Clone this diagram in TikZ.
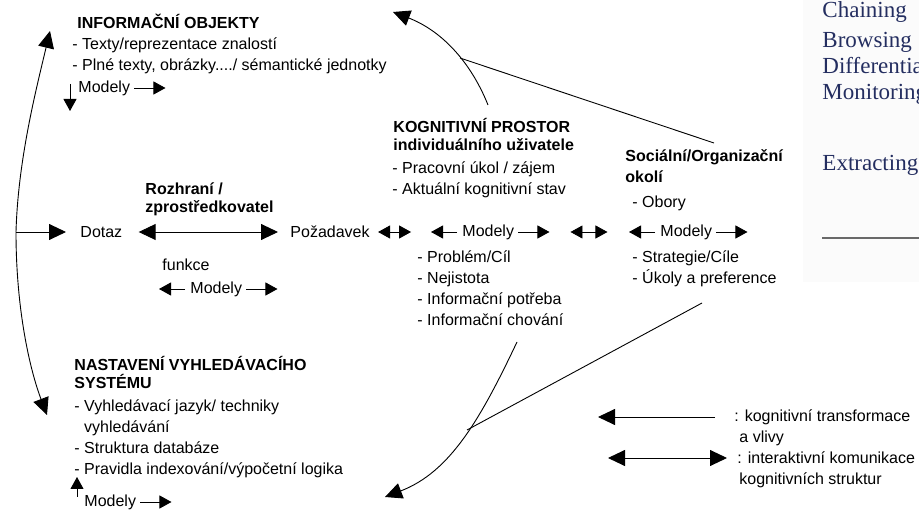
\documentclass[tikz,border=0pt]{standalone}
\usepackage{fontspec}
\setmainfont{Liberation Sans}
\newfontfamily\panelfont{Liberation Serif}
\usetikzlibrary{arrows.meta}
\definecolor{panelink}{RGB}{36,46,96}
\definecolor{panelbg}{RGB}{251,251,251}
\definecolor{rulegray}{RGB}{105,105,105}

\begin{document}
\begin{tikzpicture}[x=1pt,y=1pt,line width=0.9pt,
  >={Triangle[length=12pt,width=13pt]},
  big/.style={>={Triangle[length=17pt,width=16pt]}},
  txt/.style={anchor=west,align=left,font=\fontsize{16}{21}\selectfont},
  bold/.style={anchor=west,align=left,font=\fontsize{16}{18}\selectfont\bfseries},
  paneltxt/.style={anchor=west,text=panelink,text height=16pt,text depth=5pt,font=\panelfont\fontsize{23}{27}\selectfont}]
\tikzstyle{every node}+=[inner sep=0pt]
\useasboundingbox (0,0) rectangle (919,-510);
\fill [panelbg] (803,0) rectangle (919,-282);
\begin{scope}
\clip (803,0) rectangle (919,-282);
\node [paneltxt] (chain) at (822,-12) {Chaining};
\node [paneltxt] (brows) at (822,-42) {Browsing};
\node [paneltxt] (diff) at (822,-68) {Differentiating};
\node [paneltxt] (monit) at (822,-94) {Monitoring};
\node [paneltxt] (extr) at (822,-165) {Extracting};
\end{scope}
\draw [rulegray,line width=2pt] (822,-238) -- (919,-238);

\node [bold] (objhead) at (77,-21) {INFORMAČNÍ OBJEKTY};
\node [txt] (objlist) at (72,-56) {- Texty/reprezentace znalostí\\- Plné texty, obrázky..../ sémantické jednotky};
\node [txt] (objmod) at (78,-88) {Modely};
\draw [->] ([xshift=-8pt,yshift=4pt]objmod.west) -- ++(0,-27);
\draw [->] ([xshift=4pt]objmod.east) -- ++(31,0);

\coordinate (hub) at (16,-232);
\coordinate (objtip) at (50,-31);
\coordinate (systip) at (47,-415);
\draw [big,->] (hub) .. controls (18,-160) and (36,-90) .. (objtip);
\draw [big,->] (hub) .. controls (16,-310) and (30,-370) .. (systip);
\node [txt] (dotaz) at (80,-232) {Dotaz};
\draw [big,->] (hub) -- ([xshift=-14pt]dotaz.west);
\node [bold] (rozhead) at (145,-199) {Rozhraní /\\zprostředkovatel};
\node [txt] (pozad) at (290,-232) {Požadavek};
\draw [big,<->,shorten <=16pt,shorten >=12pt] (dotaz.east) -- (pozad.west);
\node [txt] (funkce) at (162,-265) {funkce};
\node [txt] (rozmod) at (190,-289) {Modely};
\draw [->] ([xshift=-5pt]rozmod.west) -- ++(-26,0);
\draw [->] ([xshift=4pt]rozmod.east) -- ++(31,0);

\node [bold] (koghead) at (393,-134.5) {KOGNITIVNÍ PROSTOR\\individuálního uživatele};
\node [txt] (kogtask) at (392,-179.5) {- Pracovní úkol / zájem\\- Aktuální kognitivní stav};
\node [txt] (kogmod) at (462,-232) {Modely};
\draw [->] ([xshift=-5pt]kogmod.west) -- ++(-26,0);
\draw [->] ([xshift=4pt]kogmod.east) -- ++(31,0);
\draw [<->] ([xshift=8pt]pozad.east) -- ++(33,0);
\draw [<->] ([xshift=56pt]kogmod.east) -- ++(37,0);
\node [txt] (kogprob) at (417,-288.5) {- Problém/Cíl\\- Nejistota\\- Informační potřeba\\- Informační chování};

\node [bold] (sochead) at (625,-166) {Sociální/Organizační\\[3pt]okolí};
\node [txt] (socobor) at (632,-203) {- Obory};
\node [txt] (socmod) at (660,-232) {Modely};
\draw [->] ([xshift=-5pt]socmod.west) -- ++(-26,0);
\draw [->] ([xshift=4pt]socmod.east) -- ++(31,0);
\node [txt] (socgoal) at (632,-268.5) {- Strategie/Cíle\\- Úkoly a preference};

\node [bold] (syshead) at (74,-372.5) {NASTAVENÍ VYHLEDÁVACÍHO\\SYSTÉMU};
\node [txt] (syslist) at (74,-439) {- Vyhledávací jazyk/ techniky\\\phantom{- }vyhledávání\\- Struktura databáze\\- Pravidla indexování/výpočetní logika};
\node [txt] (sysmod) at (84,-502) {Modely};
\draw [->] ([xshift=-7pt,yshift=5pt]sysmod.west) -- ++(0,20);
\draw [->] ([xshift=4pt]sysmod.east) -- ++(31,0);

\coordinate (kogtop) at (488,-105);
\coordinate (objback) at (393,-12);
\coordinate (soctop) at (714,-143);
\coordinate (topjoin) at (460,-58);
\draw [big,->] (kogtop) .. controls (470,-60) and (440,-30) .. (objback);
\draw (soctop) -- (topjoin);
\coordinate (kogbot) at (517,-342);
\coordinate (socbot) at (702,-303);
\coordinate (botjoin) at (467,-430);
\coordinate (sysback) at (385,-497);
\draw [big,->] (kogbot) .. controls (480,-420) and (450,-472) .. (sysback);
\draw (socbot) -- (botjoin);

\node [txt] (legtr) at (734,-417) {: kognitivní transformace};
\node [txt] (legtrb) at (739,-438) {a vlivy};
\node [txt] (legko) at (737,-458) {: interaktivní komunikace};
\node [txt] (legkob) at (739,-480) {kognitivních struktur};
\draw [big,->] ([xshift=-19pt]legtr.west) -- ++(-117,0);
\draw [big,<->] ([xshift=-10pt]legko.west) -- ++(-119,0);
\end{tikzpicture}
\end{document}
